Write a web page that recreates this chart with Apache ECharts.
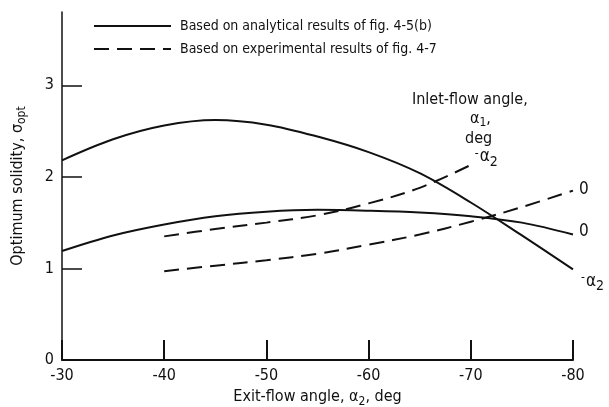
<!DOCTYPE html>
<html>
<head>
<meta charset="utf-8">
<script src="https://cdn.jsdelivr.net/npm/echarts@6/dist/echarts.min.js"></script>
<style>
  html, body { margin: 0; padding: 0; background: #fff; }
  #chart { width: 609px; height: 407px; }
</style>
</head>
<body>
<div id="chart"></div>
<script>
// Exit-flow angle, deg
const exitAngleFull = [-30, -35, -40, -45, -50, -55, -60, -65, -70, -75, -80];
const exitAngleExpA2 = [-40, -45, -50, -55, -60, -65, -70];
const exitAngleExp0 = [-40, -45, -50, -55, -60, -65, -70, -75, -80];

// Optimum solidity
const analyticalNegA2 = [2.18, 2.41, 2.56, 2.62, 2.57, 2.44, 2.27, 2.04, 1.72, 1.36, 0.99];
const analyticalZero  = [1.19, 1.36, 1.48, 1.57, 1.62, 1.64, 1.63, 1.61, 1.57, 1.50, 1.37];
const experimentalNegA2 = [1.35, 1.43, 1.50, 1.58, 1.71, 1.88, 2.13];
const experimentalZero  = [0.97, 1.03, 1.09, 1.16, 1.26, 1.37, 1.51, 1.67, 1.85];

const xTicks = [-30, -40, -50, -60, -70, -80];
const yTicks = [0, 1, 2, 3];

const legendSolid = 'Based on analytical results of fig. 4-5(b)';
const legendDashed = 'Based on experimental results of fig. 4-7';

const FONT = '"DejaVu Sans Condensed", "DejaVu Sans", sans-serif';
const INK = '#111';

function pairs(xs, ys) { return xs.map((x, i) => [x, ys[i]]); }

function lineSeries(name, data, dashed, labelText, dx, dy) {
  return {
    type: 'line', name: name, data: data,
    smooth: 0.35, symbol: 'none', showSymbol: false, silent: true,
    lineStyle: { color: INK, width: 2, type: dashed ? [15, 8] : 'solid' },
    itemStyle: { color: INK },
    emphasis: { disabled: true },
    // inlet-flow angle written at the end of each curve
    endLabel: {
      show: true, formatter: labelText, offset: [dx, dy], distance: 0,
      align: 'left', verticalAlign: 'middle',
      color: INK, fontFamily: FONT, fontSize: 17,
      rich: {
        m: { fontFamily: FONT, fontSize: 12, color: INK, padding: [0, 1, 6, 0] },
        a: { fontFamily: FONT, fontSize: 17, color: INK },
        sub: { fontFamily: FONT, fontSize: 14, color: INK, padding: [10, 0, 0, 0] }
      }
    }
  };
}

const chart = echarts.init(document.getElementById('chart'), null, { renderer: 'canvas' });

chart.setOption({
  animation: false,
  backgroundColor: '#fff',
  textStyle: { fontFamily: FONT, color: INK },
  grid: { left: 62, right: 36, top: 12, bottom: 47, outerBoundsMode: 'none', containLabel: false },
  legend: {
    orient: 'vertical', left: 88, top: 14, itemGap: 9,
    itemWidth: 77, itemHeight: 14,
    selectedMode: false,
    itemStyle: { opacity: 0 },
    data: [legendSolid, legendDashed],
    textStyle: { fontFamily: FONT, fontSize: 14, color: INK, padding: [0, 0, 0, 4] }
  },
  xAxis: {
    type: 'value', min: -80, max: -30, interval: 10, inverse: true,
    name: 'Exit-flow angle, α{sub|2}, deg',
    nameLocation: 'middle', nameGap: 23,
    nameTextStyle: {
      fontFamily: FONT, fontSize: 16, color: INK,
      rich: { sub: { fontFamily: FONT, fontSize: 12, color: INK, padding: [9, 0, 0, 0] } }
    },
    axisLine: { show: true, lineStyle: { color: INK, width: 2 } },
    axisTick: { show: true, inside: true, length: 20, lineStyle: { color: INK, width: 2 }, customValues: xTicks },
    axisLabel: { color: INK, fontFamily: FONT, fontSize: 16, margin: 8, customValues: xTicks },
    splitLine: { show: false }
  },
  yAxis: {
    type: 'value', min: 0, max: 3.8,
    name: 'Optimum solidity, σ{sub|opt}',
    nameLocation: 'middle', nameGap: 34, nameRotate: 90,
    nameTextStyle: {
      fontFamily: FONT, fontSize: 16, color: INK,
      rich: { sub: { fontFamily: FONT, fontSize: 12, color: INK, padding: [9, 0, 0, 0] } }
    },
    axisLine: { show: true, lineStyle: { color: INK, width: 1.5 } },
    axisTick: { show: true, inside: true, length: 20, lineStyle: { color: INK, width: 1.5 }, customValues: yTicks },
    axisLabel: { color: INK, fontFamily: FONT, fontSize: 16, margin: 8, customValues: yTicks },
    splitLine: { show: false }
  },
  graphic: [
    { type: 'text', left: 412, top: 92, style: { text: 'Inlet-flow angle,', font: '16px ' + FONT, fill: INK } },
    { type: 'text', left: 470, top: 111, style: {
        text: 'α{sub|1},', font: '16px ' + FONT, fill: INK,
        rich: { sub: { font: '12px ' + FONT, fill: INK, padding: [8, 0, 0, 0] } } } },
    { type: 'text', left: 465, top: 131, style: { text: 'deg', font: '16px ' + FONT, fill: INK } }
  ],
  series: [
    lineSeries(legendSolid, pairs(exitAngleFull, analyticalNegA2), false, '{m|-}{a|α}{sub|2}', 8, 12),
    lineSeries(legendSolid, pairs(exitAngleFull, analyticalZero), false, '0', 6, -3),
    lineSeries(legendDashed, pairs(exitAngleExpA2, experimentalNegA2), true, '{m|-}{a|α}{sub|2}', 4, -8),
    lineSeries(legendDashed, pairs(exitAngleExp0, experimentalZero), true, '0', 6, -1)
  ]
});
</script>
</body>
</html>
